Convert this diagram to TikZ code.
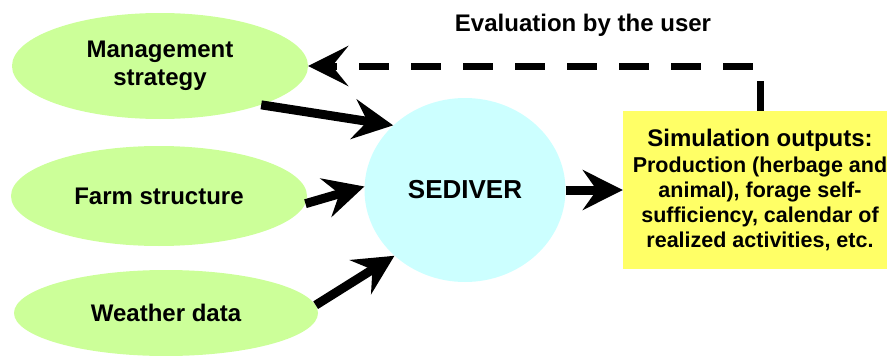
\documentclass[tikz,border=0pt]{standalone}
\usepackage{fontspec}
\setmainfont{Liberation Sans}
\usetikzlibrary{shapes.geometric,arrows.meta}
\definecolor{inputgreen}{RGB}{204,255,153}
\definecolor{modelcyan}{RGB}{204,255,255}
\definecolor{outyellow}{RGB}{255,255,102}

\begin{document}
\begin{tikzpicture}[x=1pt,y=-1pt,
	input/.style={ellipse, fill=inputgreen, inner sep=0pt, minimum width=296pt, minimum height=106pt, align=center, font=\fontsize{24}{28}\selectfont\bfseries},
	flow/.style={line width=9pt, -{Stealth[length=40pt,width=40pt,inset=14pt]}},
	feedback/.style={line width=7pt, dash pattern=on 30pt off 22pt, -{Stealth[length=40pt,width=40pt,inset=16pt]}}]

	\useasboundingbox (0,0) rectangle (887,356);

	% inputs
	\node[input] (mgmt) at (160,66) {Management\\strategy};
	\node[input, minimum height=100pt] (farm) at (159,196) {Farm structure};
	\node[input, minimum width=304pt, minimum height=86pt] (wthr) at (166,313) {Weather data};

	% model
	\node[ellipse, fill=modelcyan, inner sep=0pt, minimum width=201pt, minimum height=184pt,
		font=\fontsize{26}{30}\selectfont\bfseries] (sed) at (465,190) {SEDIVER};

	% outputs
	\node[fill=outyellow, inner sep=0pt, minimum width=274pt, minimum height=158pt, align=center,
		font=\fontsize{21.5}{25}\selectfont\bfseries] (outp) at (760,190)
		{{\fontsize{24}{28}\selectfont Simulation outputs:}\\[1pt]
		Production (herbage and\\animal), forage self-\\sufficiency, calendar of\\realized activities, etc.};

	\node[font=\fontsize{24}{28}\selectfont\bfseries] (eval) at (583,25) {Evaluation by the user};

	% connectors
	\draw[flow] (mgmt.-21) -- (sed.138);
	\draw[flow] (farm.-3) -- (sed.178);
	\draw[flow] (wthr.3) -- (sed.223);
	\draw[flow] (sed.east) -- (outp.west);
	\draw[feedback] (outp.north) |- (mgmt.east);

\end{tikzpicture}
\end{document}
